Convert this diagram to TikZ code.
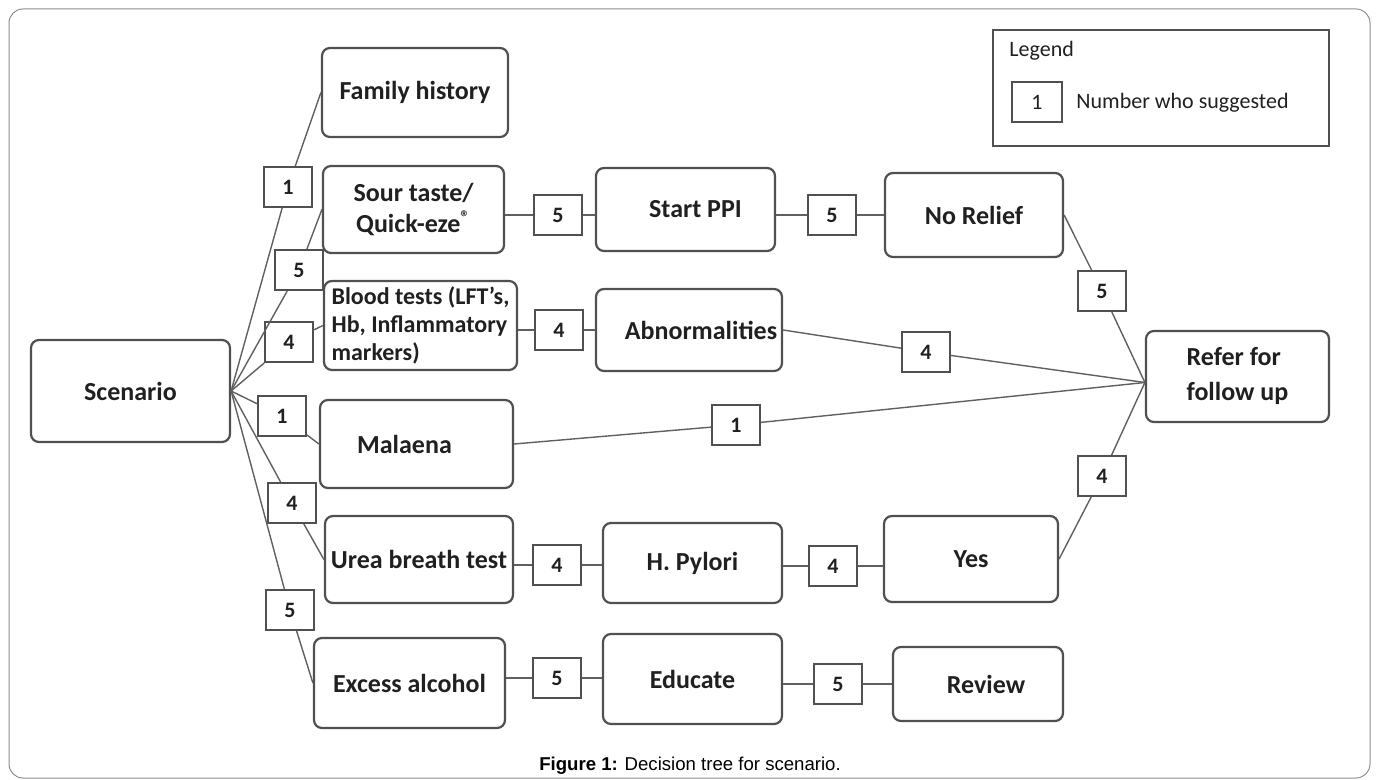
\documentclass[tikz,border=0pt]{standalone}
\usepackage{fontspec}
\setmainfont{Carlito}
\newfontfamily\capfont{Liberation Sans}
\definecolor{boxgray}{HTML}{505050}
\definecolor{linegray}{HTML}{606060}
\definecolor{framegray}{HTML}{8C8C8C}
\definecolor{textgray}{HTML}{202020}

\begin{document}
\begin{tikzpicture}[x=0.5pt, y=-0.5pt,
    box/.style={draw=boxgray, line width=1.1pt, rounded corners=4pt, align=center,
        inner sep=1pt, text=textgray, font=\fontsize{13}{16}\selectfont\bfseries},
    num/.style={draw=boxgray, line width=1pt, fill=white, minimum width=24pt,
        minimum height=20pt, inner sep=0pt, text=textgray,
        font=\fontsize{11}{13}\selectfont\bfseries},
    link/.style={draw=linegray, line width=0.7pt},
    plain/.style={inner sep=0pt, anchor=west, text=textgray,
        font=\fontsize{11}{13}\selectfont}]
    \useasboundingbox (0,0) rectangle (1376,780);
    \draw[framegray, line width=0.5pt, rounded corners=7pt] (9,9) rectangle (1370,778);

    \node[box, minimum width=99.5pt, minimum height=51pt] (/) at (130.5,391) {Scenario};
    \node[box, minimum width=93pt, minimum height=44.5pt] (/fh) at (415,92.5) {Family history};
    \node[box, minimum width=90.5pt, minimum height=43.5pt, font=\fontsize{13}{15.5}\selectfont\bfseries]
        (/st) at (413.5,209.5) {Sour taste/\\Quick-eze\textsuperscript{®}};
    \node[box, minimum width=89.5pt, minimum height=41.5pt] (/st/ppi) at (685.5,209.5) {\hspace*{10pt}Start PPI};
    \node[box, minimum width=89pt, minimum height=42pt] (/st/ppi/nr) at (974,215) {No Relief};
    \node[box, minimum width=96.5pt, minimum height=44.5pt, align=left, font=\fontsize{12}{14}\selectfont\bfseries]
        (/bt) at (420.5,325.5) {Blood tests (LFT's,\\Hb, Inflammatory\\markers)};
    \node[box, minimum width=93pt, minimum height=41pt] (/bt/ab) at (689,330) {\hspace*{12pt}Abnormalities};
    \node[box, minimum width=96.5pt, minimum height=44pt] (/ma) at (416.5,444) {Malaena\hspace*{12pt}};
    \node[box, minimum width=94pt, minimum height=43.5pt] (/ub) at (419,559.5) {Urea breath test};
    \node[box, minimum width=89.5pt, minimum height=40pt] (/ub/hp) at (692.5,563) {H. Pylori};
    \node[box, minimum width=87pt, minimum height=43pt] (/ub/hp/y) at (971,559) {Yes};
    \node[box, minimum width=95.5pt, minimum height=45pt] (/ea) at (409.5,683) {Excess alcohol};
    \node[box, minimum width=89.5pt, minimum height=45pt] (/ea/ed) at (692.5,679) {Educate};
    \node[box, minimum width=85pt, minimum height=37pt] (/ea/ed/rv) at (978,684) {\hspace*{8pt}Review};
    \node[box, minimum width=91.5pt, minimum height=45.5pt, align=left, font=\fontsize{13}{17.5}\selectfont\bfseries]
        (ref) at (1237.5,376.5) {Refer for\\follow up};

    \node[num] (n/fh) at (288,187) {1};
    \node[num] (n/st) at (299,270) {5};
    \node[num] (n/bt) at (289,342) {4};
    \node[num] (n/ma) at (282,416) {1};
    \node[num] (n/ub) at (292,503) {4};
    \node[num] (n/ea) at (290,610) {5};
    \node[num] (n/st/ppi) at (558,215) {5};
    \node[num] (n/st/ppi/nr) at (832,215) {5};
    \node[num] (n/bt/ab) at (559,330) {4};
    \node[num] (n/ub/hp) at (557,565) {4};
    \node[num] (n/ub/hp/y) at (833,566) {4};
    \node[num] (n/ea/ed) at (557,678) {5};
    \node[num] (n/ea/ed/rv) at (838,684) {5};
    \node[num] (n/st/ppi/nr/ref) at (1102,291) {5};
    \node[num] (n/bt/ab/ref) at (926,352) {4};
    \node[num] (n/ma/ref) at (736,425) {1};
    \node[num] (n/ub/hp/y/ref) at (1102,476) {4};
    \coordinate (rin) at ([yshift=-3pt]ref.west);

    \draw[link] (/.east) -- (n/fh) -- (/fh.west);
    \draw[link] (/.east) -- (n/st) -- (/st.west);
    \draw[link] (/.east) -- (n/bt) -- (/bt.west);
    \draw[link] (/.east) -- (n/ma) -- (/ma.west);
    \draw[link] (/.east) -- (n/ub) -- (/ub.west);
    \draw[link] (/.east) -- (n/ea) -- (/ea.west);

    \draw[link] (/st.east |- n/st/ppi) -- (n/st/ppi) -- (n/st/ppi -| /st/ppi.west);
    \draw[link] (/st/ppi.east |- n/st/ppi/nr) -- (n/st/ppi/nr) -- (n/st/ppi/nr -| /st/ppi/nr.west);
    \draw[link] (/bt.east |- n/bt/ab) -- (n/bt/ab) -- (n/bt/ab -| /bt/ab.west);
    \draw[link] (/ub.east |- n/ub/hp) -- (n/ub/hp) -- (n/ub/hp -| /ub/hp.west);
    \draw[link] (/ub/hp.east |- n/ub/hp/y) -- (n/ub/hp/y) -- (n/ub/hp/y -| /ub/hp/y.west);
    \draw[link] (/ea.east |- n/ea/ed) -- (n/ea/ed) -- (n/ea/ed -| /ea/ed.west);
    \draw[link] (/ea/ed.east |- n/ea/ed/rv) -- (n/ea/ed/rv) -- (n/ea/ed/rv -| /ea/ed/rv.west);

    \draw[link] (/st/ppi/nr.east) -- (n/st/ppi/nr/ref) -- (rin);
    \draw[link] (/bt/ab.east) -- (n/bt/ab/ref) -- (rin);
    \draw[link] (/ma.east) -- (n/ma/ref) -- (rin);
    \draw[link] (/ub/hp/y.east) -- (n/ub/hp/y/ref) -- (rin);

    \node[draw=boxgray, line width=1pt, minimum width=168pt, minimum height=58pt] (leg) at (1161,88) {};
    \node[plain] (leg/t) at (1009,51) {Legend};
    \node[num, minimum width=25pt, font=\fontsize{11}{13}\selectfont] (leg/n) at (1037,102) {1};
    \node[plain] (leg/s) at (1076,103) {Number who suggested};

    \node[text=black, font=\capfont\fontsize{9.3}{11}\selectfont] (cap) at (690,766)
        {\textbf{Figure 1:} Decision tree for scenario.};
\end{tikzpicture}
\end{document}
